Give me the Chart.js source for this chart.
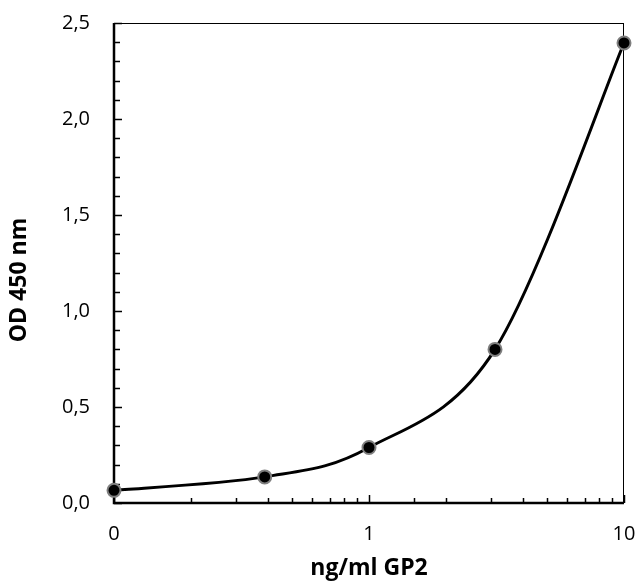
<!DOCTYPE html>
<html>
<head>
<meta charset="utf-8">
<script src="https://cdn.jsdelivr.net/npm/chart.js@4/dist/chart.umd.min.js"></script>
<style>
  html, body { margin: 0; padding: 0; background: #fff; }
</style>
</head>
<body>
<canvas id="odChart" width="637" height="582"></canvas>
<script>
// Values (the "0" standard is drawn at 0.1 on the log axis)
const concentrations = [0.1, 0.39, 1, 3.12, 10];
const odValues = [0.066, 0.136, 0.289, 0.80, 2.396];
const xTickValues = [0.1, 1, 10];
const xTickLabels = ['0', '1', '10'];
const yMin = 0, yMax = 2.5, yMinorStep = 0.1, yMajorStep = 0.5;

const tickFont = { family: 'Open Sans', size: 20 };
const titleFont = { family: 'Open Sans', size: 23, weight: 'bold' };

// frame + inside tick marks, drawn from the scales' own ticks
const frameTicks = {
    id: 'frameTicks',
    beforeDatasetsDraw(chart) {
        const { ctx, chartArea: a, scales: { x, y } } = chart;
        ctx.save();
        ctx.strokeStyle = '#000';
        ctx.lineWidth = 1;
        ctx.beginPath();
        ctx.moveTo(a.left, a.top + 0.5); ctx.lineTo(a.right, a.top + 0.5);
        ctx.moveTo(a.right - 0.5, a.top); ctx.lineTo(a.right - 0.5, a.bottom);
        ctx.stroke();

        ctx.lineWidth = 1.5;
        ctx.beginPath();
        y.ticks.forEach(t => {
            const py = Math.round(y.getPixelForValue(t.value)) + 0.5;
            const len = t.label !== '' ? 8 : 6;
            ctx.moveTo(a.left, py); ctx.lineTo(a.left + len, py);
        });
        x.ticks.forEach(t => {
            const px = Math.round(x.getPixelForValue(t.value)) + 0.5;
            const len = t.label !== '' ? 8 : 5;
            ctx.moveTo(px, a.bottom); ctx.lineTo(px, a.bottom - len);
        });
        ctx.stroke();

        ctx.lineWidth = 2.5;
        ctx.beginPath();
        ctx.moveTo(a.left, a.top); ctx.lineTo(a.left, a.bottom);
        ctx.lineTo(a.right, a.bottom);
        ctx.stroke();
        ctx.restore();
    }
};

// Excel-like smoothing: uniform Catmull-Rom handles (1/6 of neighbour span)
const smoothLine = {
    id: 'smoothLine',
    beforeDatasetDraw(chart, args) {
        const pts = args.meta.data;
        args.meta.dataset.updateControlPoints(chart.chartArea, 'x');
        pts.forEach((p, i) => {
            const prev = pts[Math.max(i - 1, 0)];
            const next = pts[Math.min(i + 1, pts.length - 1)];
            const dx = (next.x - prev.x) / 6, dy = (next.y - prev.y) / 6;
            p.cp1x = p.x - dx; p.cp1y = p.y - dy;
            p.cp2x = p.x + dx; p.cp2y = p.y + dy;
        });
    }
};

// y axis title, centred a little below the plot middle as in the original
const yTitle = {
    id: 'yTitle',
    afterDraw(chart) {
        const { ctx } = chart;
        ctx.save();
        ctx.translate(19, 280);
        ctx.rotate(-Math.PI / 2);
        ctx.font = `bold ${titleFont.size}px "${titleFont.family}"`;
        ctx.fillStyle = '#000';
        ctx.textAlign = 'center';
        ctx.textBaseline = 'middle';
        ctx.fillText('OD 450 nm', 0, 0);
        ctx.restore();
    }
};

new Chart(document.getElementById('odChart'), {
    type: 'line',
    data: {
        datasets: [{
            data: concentrations.map((c, i) => ({ x: c, y: odValues[i] })),
            borderColor: '#000',
            borderWidth: 3,
            tension: 0.4,
            pointRadius: 6.5,
            pointBackgroundColor: '#000',
            pointBorderColor: '#7f7f7f',
            pointBorderWidth: 2,
            clip: false
        }]
    },
    options: {
        responsive: false,
        animation: false,
        events: [],
        layout: { padding: { top: 23, right: 13, left: 0, bottom: 0 } },
        plugins: { legend: { display: false }, tooltip: { enabled: false } },
        scales: {
            x: {
                type: 'logarithmic',
                min: 0.1,
                max: 10,
                grid: { display: false },
                border: { display: false },
                afterFit(s) { s.height = 79; s.paddingLeft = 0; s.paddingRight = 0; },
                ticks: {
                    autoSkip: false,
                    maxRotation: 0,
                    padding: 11,
                    color: '#000',
                    font: tickFont,
                    callback(v) {
                        const i = xTickValues.findIndex(t => Math.abs(t - v) < 1e-9);
                        return i >= 0 ? xTickLabels[i] : '';
                    }
                },
                title: {
                    display: true,
                    text: 'ng/ml GP2',
                    color: '#000',
                    font: titleFont,
                    padding: { top: 0, bottom: 0 }
                }
            },
            y: {
                min: yMin,
                max: yMax,
                grid: { display: false },
                border: { display: false },
                afterFit(s) { s.width = 114; s.paddingTop = 0; s.paddingBottom = 0; },
                ticks: {
                    stepSize: yMinorStep,
                    autoSkip: false,
                    padding: 16,
                    color: '#000',
                    font: tickFont,
                    callback(v) {
                        const r = v / yMajorStep;
                        return Math.abs(r - Math.round(r)) < 1e-6 ? v.toFixed(1).replace('.', ',') : '';
                    }
                }
            }
        }
    },
    plugins: [frameTicks, smoothLine, yTitle]
});
</script>
</body>
</html>
